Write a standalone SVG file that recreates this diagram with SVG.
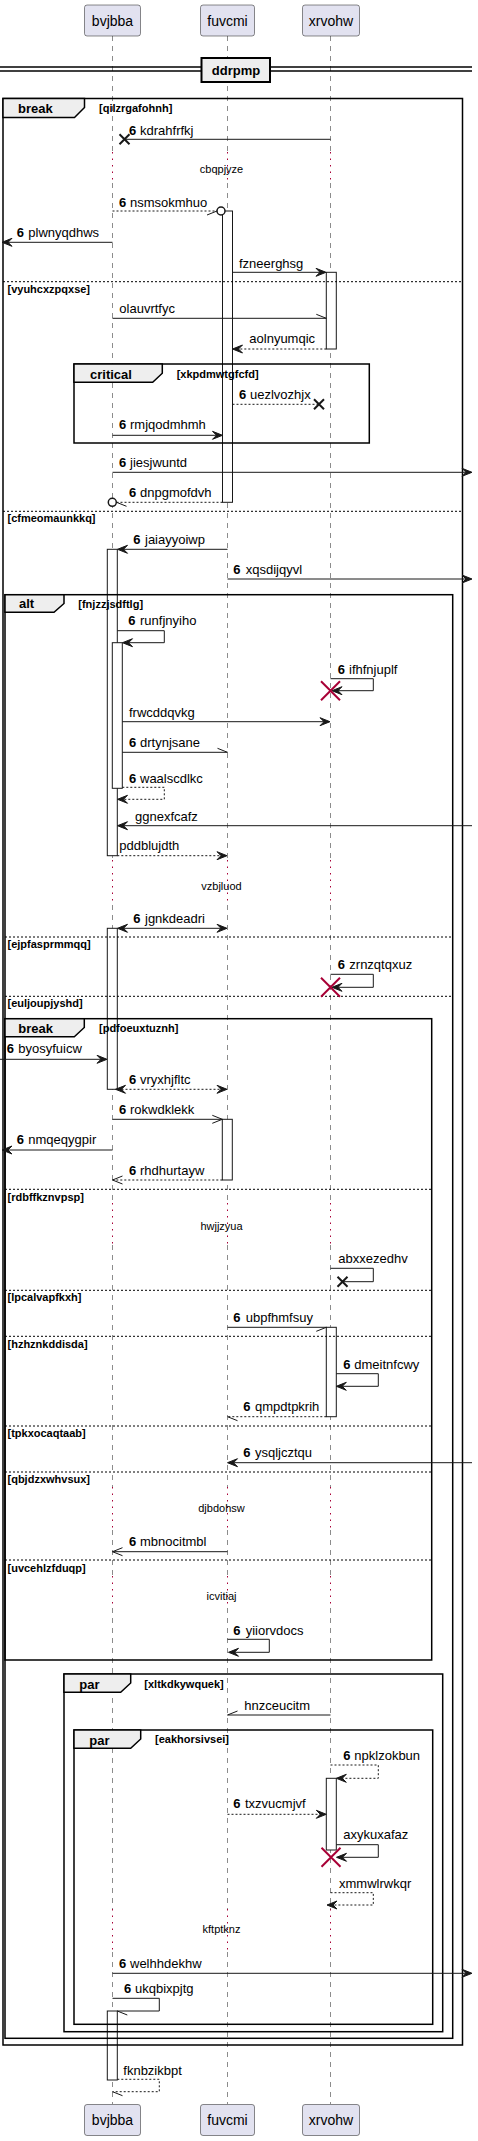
<svg xmlns="http://www.w3.org/2000/svg" width="478" height="2141" viewBox="0 0 478 2141">
<style>
text{font-family:"Liberation Sans",Arial,sans-serif;fill:#000}
.m{font-size:13px}
.b{font-weight:bold}
.p{font-size:14px}
.fl{font-size:13px;font-weight:bold}
.c{font-size:11px;font-weight:bold}
.d{font-size:11px}
.box{fill:#E2E2F0;stroke:#181818;stroke-width:0.5}
.life{stroke:#181818;stroke-width:0.5;stroke-dasharray:5,5;fill:none}
.dot{stroke:#A80036;stroke-width:1;stroke-dasharray:1.5,5;fill:none}
.fr{fill:none;stroke:#000;stroke-width:1.5}
.tab{fill:#EEEEEE;stroke:#000;stroke-width:1.5}
.sep{stroke:#000;stroke-width:1;stroke-dasharray:2,2}
.act{fill:#fff;stroke:#181818;stroke-width:1}
.ln{fill:none;stroke:#181818;stroke-width:1}
.da{stroke-dasharray:2,2}
.ah{fill:#181818;stroke:#181818;stroke-width:1}
.x{stroke:#181818;stroke-width:2}
.rx{stroke:#A80036;stroke-width:2}
</style>

<g id="lifelines">
<g id="ll-bvjbba">
<path class="life" d="M112.5,36V152M112.5,183V860M112.5,905V1203M112.5,1245V1487M112.5,1530V1576M112.5,1608V1909M112.5,1952V2104"/>
<path class="dot" d="M112.5,152V183M112.5,860V905M112.5,1203V1245M112.5,1487V1530M112.5,1576V1608M112.5,1909V1952"/>
</g>
<g id="ll-fuvcmi">
<path class="life" d="M227.5,36V152M227.5,183V860M227.5,905V1203M227.5,1245V1487M227.5,1530V1576M227.5,1608V1909M227.5,1952V2104"/>
<path class="dot" d="M227.5,152V183M227.5,860V905M227.5,1203V1245M227.5,1487V1530M227.5,1576V1608M227.5,1909V1952"/>
</g>
<g id="ll-xrvohw">
<path class="life" d="M330.5,36V152M330.5,183V860M330.5,905V1203M330.5,1245V1487M330.5,1530V1576M330.5,1608V1909M330.5,1952V2104"/>
<path class="dot" d="M330.5,152V183M330.5,860V905M330.5,1203V1245M330.5,1487V1530M330.5,1576V1608M330.5,1909V1952"/>
</g>
</g>

<g id="p-bvjbba">
<rect class="box" x="84.5" y="5" width="56" height="31" rx="2.5"/>
<text class="p" x="112.5" y="25.5" text-anchor="middle">bvjbba</text>
<rect class="box" x="84.5" y="2104.5" width="56" height="31" rx="2.5"/>
<text class="p" x="112.5" y="2125" text-anchor="middle">bvjbba</text>
</g>
<g id="p-fuvcmi">
<rect class="box" x="200.5" y="5" width="54" height="31" rx="2.5"/>
<text class="p" x="227.5" y="25.5" text-anchor="middle">fuvcmi</text>
<rect class="box" x="200.5" y="2104.5" width="54" height="31" rx="2.5"/>
<text class="p" x="227.5" y="2125" text-anchor="middle">fuvcmi</text>
</g>
<g id="p-xrvohw">
<rect class="box" x="302.5" y="5" width="57" height="31" rx="2.5"/>
<text class="p" x="331" y="25.5" text-anchor="middle">xrvohw</text>
<rect class="box" x="302.5" y="2104.5" width="57" height="31" rx="2.5"/>
<text class="p" x="331" y="2125" text-anchor="middle">xrvohw</text>
</g>

<g id="activations">
<rect class="act" x="222.5" y="211" width="10" height="291.3"/>
<rect class="act" x="326.3" y="272.3" width="10" height="76.7"/>
<rect class="act" x="107.3" y="549.3" width="10" height="306.4"/>
<rect class="act" x="112.3" y="642.7" width="10" height="145.6"/>
<rect class="act" x="107.3" y="928.3" width="10" height="161"/>
<rect class="act" x="222.3" y="1119.3" width="10" height="60.7"/>
<rect class="act" x="326.3" y="1327.3" width="10" height="89.4"/>
<rect class="act" x="326.3" y="1778.3" width="10" height="71.7"/>
<rect class="act" x="107.3" y="2011" width="10" height="69"/>
</g>

<g id="divider">
<line x1="0" y1="67" x2="472" y2="67" stroke="#000" stroke-width="1.5"/>
<line x1="0" y1="71" x2="472" y2="71" stroke="#000" stroke-width="1.5"/>
<rect x="201.5" y="58" width="68.5" height="24" fill="#EEEEEE" stroke="#000" stroke-width="2"/>
<text class="fl" x="236" y="75" text-anchor="middle">ddrpmp</text>
</g>

<g id="frame-break1">
<rect class="fr" x="3" y="98.5" width="459.5" height="1946.5"/>
<path class="tab" d="M3,98.5H84.5V107.5L74.5,117.5H3Z"/>
<text class="fl" x="18" y="112.5">break</text>
<text class="c" x="99" y="112">[qilzrgafohnh]</text>
<line class="sep" x1="3" y1="281.7" x2="462.5" y2="281.7"/>
<text class="c" x="7.5" y="292.5">[vyuhcxzpqxse]</text>
<line class="sep" x1="3" y1="511.3" x2="462.5" y2="511.3"/>
<text class="c" x="7.5" y="522.3">[cfmeomaunkkq]</text>
</g>

<g id="frame-critical">
<rect class="fr" x="74" y="364" width="295.3" height="79"/>
<path class="tab" d="M74,364H162.3V373.3L152.7,382.3H74Z"/>
<text class="fl" x="90" y="378.7">critical</text>
<text class="c" x="176.7" y="378">[xkpdmwtgfcfd]</text>
</g>

<g id="frame-alt">
<rect class="fr" x="5" y="594.7" width="447.7" height="1443.6"/>
<path class="tab" d="M5,594.7H64V603.5L54,612.3H5Z"/>
<text class="fl" x="19" y="608.3">alt</text>
<text class="c" x="78.3" y="607.7">[fnjzzjsdftlg]</text>
<line class="sep" x1="5" y1="937" x2="452.7" y2="937"/>
<text class="c" x="7.5" y="948.3">[ejpfasprmmqq]</text>
<line class="sep" x1="5" y1="996.3" x2="452.7" y2="996.3"/>
<text class="c" x="7.5" y="1007.3">[euljoupjyshd]</text>
</g>

<g id="frame-break2">
<rect class="fr" x="5" y="1018.7" width="426.7" height="641.3"/>
<path class="tab" d="M5,1018.7H84.3V1027.5L74.3,1036.7H5Z"/>
<text class="fl" x="18.3" y="1032.7">break</text>
<text class="c" x="99" y="1032">[pdfoeuxtuznh]</text>
<line class="sep" x1="5" y1="1189.3" x2="431.7" y2="1189.3"/>
<text class="c" x="7.5" y="1200.7">[rdbffkznvpsp]</text>
<line class="sep" x1="5" y1="1290.3" x2="431.7" y2="1290.3"/>
<text class="c" x="7.5" y="1301">[lpcalvapfkxh]</text>
<line class="sep" x1="5" y1="1336.3" x2="431.7" y2="1336.3"/>
<text class="c" x="7.5" y="1347.7">[hzhznkddisda]</text>
<line class="sep" x1="5" y1="1426" x2="431.7" y2="1426"/>
<text class="c" x="7.5" y="1437.3">[tpkxocaqtaab]</text>
<line class="sep" x1="5" y1="1472" x2="431.7" y2="1472"/>
<text class="c" x="7.5" y="1483.3">[qbjdzxwhvsux]</text>
<line class="sep" x1="5" y1="1560" x2="431.7" y2="1560"/>
<text class="c" x="7.5" y="1571.7">[uvcehlzfduqp]</text>
</g>

<g id="frame-par1">
<rect class="fr" x="64" y="1674" width="378.7" height="357.7"/>
<path class="tab" d="M64,1674H130.7V1683L120.7,1692.3H64Z"/>
<text class="fl" x="79.3" y="1689">par</text>
<text class="c" x="144.3" y="1687.7">[xltkdkywquek]</text>
</g>

<g id="frame-par2">
<rect class="fr" x="74" y="1730" width="358.7" height="294.3"/>
<path class="tab" d="M74,1730H140.7V1739L130.7,1748.3H74Z"/>
<text class="fl" x="89.3" y="1745">par</text>
<text class="c" x="155" y="1743.3">[eakhorsivsei]</text>
</g>

<g id="delays">
<text class="d" x="221.5" y="172.7" text-anchor="middle">cbqpjyze</text>
<text class="d" x="221.5" y="890" text-anchor="middle">vzbjluod</text>
<text class="d" x="221.5" y="1230" text-anchor="middle">hwjjzyua</text>
<text class="d" x="221.5" y="1512.3" text-anchor="middle">djbdohsw</text>
<text class="d" x="221.5" y="1600" text-anchor="middle">icvitiaj</text>
<text class="d" x="221.5" y="1933.3" text-anchor="middle">kftptknz</text>
</g>

<g id="connectors">
<!-- kdrahfrfkj -->
<line class="ln" x1="330.5" y1="139.3" x2="124.5" y2="139.3"/>
<path class="x" d="M119.5,134.3L129.5,144.3M129.5,134.3L119.5,144.3"/>
<text class="m b" x="129" y="135">6</text><text class="m" x="140" y="135">kdrahfrfkj</text>
<!-- nsmsokmhuo -->
<line class="ln da" x1="112.5" y1="211" x2="217" y2="211"/>
<line class="ln" x1="207" y1="215" x2="217" y2="211"/>
<circle cx="221" cy="211" r="4" fill="#fff" stroke="#181818" stroke-width="1.5"/>
<text class="m b" x="119" y="206.7">6</text><text class="m" x="130" y="206.7">nsmsokmhuo</text>
<!-- plwnyqdhws -->
<line class="ln" x1="112.5" y1="242.3" x2="3" y2="242.3"/>
<polygon class="ah" points="12,238.3 2,242.3 12,246.3 8,242.3"/>
<text class="m b" x="16.7" y="236.7">6</text><text class="m" x="28.3" y="236.7">plwnyqdhws</text>
<!-- fzneerghsg -->
<line class="ln" x1="232.5" y1="272.3" x2="325" y2="272.3"/>
<polygon class="ah" points="316,268.3 326,272.3 316,276.3 320,272.3"/>
<text class="m" x="239" y="267.7">fzneerghsg</text>
<!-- olauvrtfyc -->
<line class="ln" x1="112.5" y1="318.3" x2="326.3" y2="318.3"/>
<line class="ln" x1="316.3" y1="314.3" x2="326.3" y2="318.3"/>
<text class="m" x="119.3" y="313.3">olauvrtfyc</text>
<!-- aolnyumqic -->
<line class="ln da" x1="326.3" y1="349" x2="234" y2="349"/>
<polygon class="ah" points="242.5,345 232.5,349 242.5,353 238.5,349"/>
<text class="m" x="249.3" y="343.3">aolnyumqic</text>
<!-- uezlvozhjx -->
<line class="ln da" x1="232.5" y1="404.3" x2="319" y2="404.3"/>
<path class="x" d="M314,399.3L324,409.3M324,399.3L314,409.3"/>
<text class="m b" x="239" y="398.7">6</text><text class="m" x="250" y="398.7">uezlvozhjx</text>
<!-- rmjqodmhmh -->
<line class="ln" x1="112.5" y1="435.3" x2="221" y2="435.3"/>
<polygon class="ah" points="212.5,431.3 222.5,435.3 212.5,439.3 216.5,435.3"/>
<text class="m b" x="119" y="429.3">6</text><text class="m" x="130" y="429.3">rmjqodmhmh</text>
<!-- jiesjwuntd -->
<line class="ln" x1="112.5" y1="472.3" x2="471" y2="472.3"/>
<polygon class="ah" points="462,468.3 472,472.3 462,476.3 466,472.3"/>
<text class="m b" x="119" y="466.7">6</text><text class="m" x="130" y="466.7">jiesjwuntd</text>
<!-- dnpgmofdvh -->
<line class="ln da" x1="222.5" y1="502.3" x2="116.5" y2="502.3"/>
<line class="ln" x1="116.5" y1="502.3" x2="126.5" y2="506.3"/>
<circle cx="112.3" cy="502.3" r="4" fill="#fff" stroke="#181818" stroke-width="1.5"/>
<text class="m b" x="129" y="497.3">6</text><text class="m" x="140" y="497.3">dnpgmofdvh</text>
<!-- jaiayyoiwp -->
<line class="ln" x1="227.5" y1="549.3" x2="119" y2="549.3"/>
<polygon class="ah" points="127.5,545.3 117.5,549.3 127.5,553.3 123.5,549.3"/>
<text class="m b" x="133.3" y="544.3">6</text><text class="m" x="145" y="544.3">jaiayyoiwp</text>
<!-- xqsdijqyvl -->
<line class="ln" x1="227.5" y1="579" x2="471" y2="579"/>
<polygon class="ah" points="462,575 472,579 462,583 466,579"/>
<text class="m b" x="233.3" y="574">6</text><text class="m" x="245.7" y="574">xqsdijqyvl</text>
<!-- runfjnyiho -->
<polyline class="ln" points="117.3,630.7 164.3,630.7 164.3,642.7 124,642.7"/>
<polygon class="ah" points="132.5,638.7 122.5,642.7 132.5,646.7 128.5,642.7"/>
<text class="m b" x="128.3" y="625">6</text><text class="m" x="140" y="625">runfjnyiho</text>
<!-- ifhfnjuplf -->
<polyline class="ln" points="330.5,678.7 373.3,678.7 373.3,690.7 334,690.7"/>
<polygon class="ah" points="342,686.7 332,690.7 342,694.7 338,690.7"/>
<path class="rx" d="M321,681.2L340,700.2M340,681.2L321,700.2"/>
<text class="m b" x="337.7" y="673.7">6</text><text class="m" x="349" y="673.7">ifhfnjuplf</text>
<!-- frwcddqvkg -->
<line class="ln" x1="122.3" y1="721.7" x2="329" y2="721.7"/>
<polygon class="ah" points="320,717.7 330,721.7 320,725.7 324,721.7"/>
<text class="m" x="129" y="716.7">frwcddqvkg</text>
<!-- drtynjsane -->
<line class="ln" x1="122.3" y1="752.3" x2="227.5" y2="752.3"/>
<line class="ln" x1="217.5" y1="748.3" x2="227.5" y2="752.3"/>
<text class="m b" x="129" y="746.7">6</text><text class="m" x="140" y="746.7">drtynjsane</text>
<!-- waalscdlkc -->
<polyline class="ln da" points="122.3,787.3 164.3,787.3 164.3,799.3 119,799.3"/>
<polygon class="ah" points="127.5,795.3 117.5,799.3 127.5,803.3 123.5,799.3"/>
<text class="m b" x="129" y="782.7">6</text><text class="m" x="140" y="782.7">waalscdlkc</text>
<!-- ggnexfcafz -->
<line class="ln" x1="472" y1="825.7" x2="119" y2="825.7"/>
<polygon class="ah" points="127.5,821.7 117.5,825.7 127.5,829.7 123.5,825.7"/>
<text class="m" x="135" y="820.7">ggnexfcafz</text>
<!-- pddblujdth -->
<line class="ln da" x1="117.3" y1="855.7" x2="226" y2="855.7"/>
<polygon class="ah" points="217,851.7 227,855.7 217,859.7 221,855.7"/>
<text class="m" x="119.3" y="850">pddblujdth</text>
<!-- jgnkdeadri -->
<line class="ln" x1="119" y1="928.3" x2="226" y2="928.3"/>
<polygon class="ah" points="127.5,924.3 117.5,928.3 127.5,932.3 123.5,928.3"/>
<polygon class="ah" points="217,924.3 227,928.3 217,932.3 221,928.3"/>
<text class="m b" x="133.3" y="923.3">6</text><text class="m" x="145" y="923.3">jgnkdeadri</text>
<!-- zrnzqtqxuz -->
<polyline class="ln" points="330.5,974.3 373.3,974.3 373.3,987.3 334,987.3"/>
<polygon class="ah" points="342,983.3 332,987.3 342,991.3 338,987.3"/>
<path class="rx" d="M321,977.8L340,996.8M340,977.8L321,996.8"/>
<text class="m b" x="337.7" y="969.3">6</text><text class="m" x="349.3" y="969.3">zrnzqtqxuz</text>
<!-- byosyfuicw -->
<line class="ln" x1="0" y1="1059.3" x2="106" y2="1059.3"/>
<polygon class="ah" points="97,1055.3 107,1059.3 97,1063.3 101,1059.3"/>
<text class="m b" x="6.7" y="1053.3">6</text><text class="m" x="18.3" y="1053.3">byosyfuicw</text>
<!-- vryxhjfltc -->
<line class="ln da" x1="117.5" y1="1089.3" x2="226" y2="1089.3"/>
<polygon class="ah" points="125.5,1085.3 115.5,1089.3 125.5,1093.3 121.5,1089.3"/>
<polygon class="ah" points="217,1085.3 227,1089.3 217,1093.3 221,1089.3"/>
<text class="m b" x="129" y="1084">6</text><text class="m" x="140" y="1084">vryxhjfltc</text>
<!-- rokwdklekk -->
<line class="ln" x1="112.5" y1="1119.3" x2="222.3" y2="1119.3"/>
<path class="ln" d="M212.3,1115.3L222.3,1119.3L212.3,1123.3"/>
<text class="m b" x="119" y="1114">6</text><text class="m" x="130" y="1114">rokwdklekk</text>
<!-- nmqeqygpir -->
<line class="ln" x1="112.5" y1="1150" x2="3" y2="1150"/>
<polygon class="ah" points="12,1146 2,1150 12,1154 8,1150"/>
<text class="m b" x="16.7" y="1144.3">6</text><text class="m" x="28.3" y="1144.3">nmqeqygpir</text>
<!-- rhdhurtayw -->
<line class="ln da" x1="222.3" y1="1180" x2="112.5" y2="1180"/>
<path class="ln" d="M122.5,1176L112.5,1180L122.5,1184"/>
<text class="m b" x="129" y="1175">6</text><text class="m" x="140" y="1175">rhdhurtayw</text>
<!-- abxxezedhv -->
<polyline class="ln" points="330.5,1268.3 373.3,1268.3 373.3,1281.7 342.5,1281.7"/>
<path class="x" d="M337.5,1276.7L347.5,1286.7M347.5,1276.7L337.5,1286.7"/>
<text class="m" x="338.3" y="1263.3">abxxezedhv</text>
<!-- ubpfhmfsuy -->
<line class="ln" x1="227.5" y1="1327.3" x2="326.3" y2="1327.3"/>
<line class="ln" x1="316.3" y1="1331.3" x2="326.3" y2="1327.3"/>
<text class="m b" x="233.3" y="1322.3">6</text><text class="m" x="245.7" y="1322.3">ubpfhmfsuy</text>
<!-- dmeitnfcwy -->
<polyline class="ln" points="336.3,1373.7 378.3,1373.7 378.3,1386.3 338,1386.3"/>
<polygon class="ah" points="346.3,1382.3 336.3,1386.3 346.3,1390.3 342.3,1386.3"/>
<text class="m b" x="343.3" y="1369">6</text><text class="m" x="354.3" y="1369">dmeitnfcwy</text>
<!-- qmpdtpkrih -->
<line class="ln da" x1="326.3" y1="1416.7" x2="227.5" y2="1416.7"/>
<line class="ln" x1="227.5" y1="1416.7" x2="237.5" y2="1420.7"/>
<text class="m b" x="243.3" y="1410.7">6</text><text class="m" x="255" y="1410.7">qmpdtpkrih</text>
<!-- ysqljcztqu -->
<line class="ln" x1="472" y1="1462.7" x2="229" y2="1462.7"/>
<polygon class="ah" points="237.5,1458.7 227.5,1462.7 237.5,1466.7 233.5,1462.7"/>
<text class="m b" x="243.3" y="1457.3">6</text><text class="m" x="255" y="1457.3">ysqljcztqu</text>
<!-- mbnocitmbl -->
<line class="ln" x1="227.5" y1="1551.7" x2="112.5" y2="1551.7"/>
<path class="ln" d="M122.5,1547.7L112.5,1551.7L122.5,1555.7"/>
<text class="m b" x="129" y="1546">6</text><text class="m" x="140" y="1546">mbnocitmbl</text>
<!-- yiiorvdocs -->
<polyline class="ln" points="227.5,1639.3 269.3,1639.3 269.3,1652.3 230,1652.3"/>
<polygon class="ah" points="238.5,1648.3 228.5,1652.3 238.5,1656.3 234.5,1652.3"/>
<text class="m b" x="233.3" y="1635">6</text><text class="m" x="245.7" y="1635">yiiorvdocs</text>
<!-- hnzceucitm -->
<line class="ln" x1="330.5" y1="1715" x2="227.5" y2="1715"/>
<line class="ln" x1="227.5" y1="1715" x2="237.5" y2="1711"/>
<text class="m" x="244.3" y="1710">hnzceucitm</text>
<!-- npklzokbun -->
<polyline class="ln da" points="330.5,1765 378.3,1765 378.3,1778.3 338,1778.3"/>
<polygon class="ah" points="346.3,1774.3 336.3,1778.3 346.3,1782.3 342.3,1778.3"/>
<text class="m b" x="343.3" y="1760">6</text><text class="m" x="354.3" y="1760">npklzokbun</text>
<!-- txzvucmjvf -->
<line class="ln da" x1="227.5" y1="1814.3" x2="325" y2="1814.3"/>
<polygon class="ah" points="316.3,1810.3 326.3,1814.3 316.3,1818.3 320.3,1814.3"/>
<text class="m b" x="233.3" y="1808.3">6</text><text class="m" x="245" y="1808.3">txzvucmjvf</text>
<!-- axykuxafaz -->
<polyline class="ln" points="336.3,1844.7 378.3,1844.7 378.3,1857.3 338,1857.3"/>
<polygon class="ah" points="346.5,1853.3 336.5,1857.3 346.5,1861.3 342.5,1857.3"/>
<path class="rx" d="M321.5,1847.8L340.5,1866.8M340.5,1847.8L321.5,1866.8"/>
<text class="m" x="343.3" y="1839.3">axykuxafaz</text>
<!-- xmmwlrwkqr -->
<polyline class="ln da" points="330.5,1892.7 373.3,1892.7 373.3,1905 329,1905"/>
<polygon class="ah" points="337,1901 327,1905 337,1909 333,1905"/>
<text class="m" x="339" y="1887.7">xmmwlrwkqr</text>
<!-- welhhdekhw -->
<line class="ln" x1="112.5" y1="1973.3" x2="471" y2="1973.3"/>
<polygon class="ah" points="462,1969.3 472,1973.3 462,1977.3 466,1973.3"/>
<text class="m b" x="119" y="1967.7">6</text><text class="m" x="130" y="1967.7">welhhdekhw</text>
<!-- ukqbixpjtg -->
<polyline class="ln" points="112.5,1998.3 159.3,1998.3 159.3,2011 117.3,2011"/>
<line class="ln" x1="117.3" y1="2011" x2="127.3" y2="2015"/>
<text class="m b" x="124" y="1993.3">6</text><text class="m" x="135" y="1993.3">ukqbixpjtg</text>
<!-- fknbzikbpt -->
<polyline class="ln da" points="117.3,2079.3 159.3,2079.3 159.3,2091.7 112.5,2091.7"/>
<line class="ln" x1="112.5" y1="2091.7" x2="122.5" y2="2095.7"/>
<text class="m" x="123.3" y="2075">fknbzikbpt</text>
</g>
</svg>
